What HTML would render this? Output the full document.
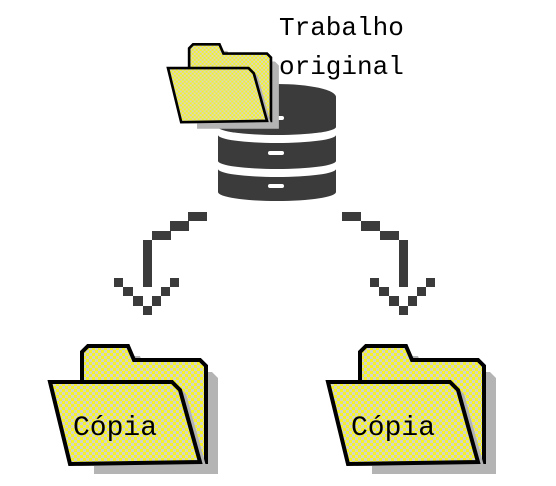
<!DOCTYPE html>
<html><head><meta charset="utf-8"><style>
html,body{margin:0;padding:0;background:#fff;width:556px;height:486px;overflow:hidden}
</style></head><body>
<svg width="556" height="486" viewBox="0 0 556 486" xmlns="http://www.w3.org/2000/svg">
<defs>
<pattern id="ck" width="6" height="6" patternUnits="userSpaceOnUse">
<rect width="6" height="6" fill="#f6f22a"/>
<rect width="3" height="3" fill="#d6d6c4"/>
<rect x="3" y="3" width="3" height="3" fill="#d6d6c4"/>
</pattern>
<g id="folder">
<path d="M38,26 L38,12 L44,6 L84,6 L90,22 L156,22 L162,28 L162,124 L38,124 Z" fill="#b4b4b4" transform="translate(6,6)"/>
<path d="M32,20 L32,8 L38,2 L78,2 L84,16 L150,16 L156,22 L156,118 L32,118 Z" fill="url(#ck)" stroke="#000" stroke-width="4"/>
<path d="M2,40 L124,40 L132,48 L152,120 L24,120 Z" fill="#b4b4b4" transform="translate(4,2)"/>
<path d="M0,38 L122,38 L130,46 L150,118 L20,120 Z" fill="url(#ck)" stroke="#000" stroke-width="4"/>
</g>
</defs>
<g fill="#3b3b3b">
<path d="M218,97 A59,13 0 0 1 336,97 L336,127 A59,8 0 0 1 218,127 Z"/>
<path d="M218,135 A59,8 0 0 0 336,135 L336,161 A59,8 0 0 1 218,161 Z"/>
<path d="M218,169 A59,8 0 0 0 336,169 L336,192 A59,9 0 0 1 218,192 Z"/>
</g>
<g fill="#fff"><rect x="268" y="116" width="16" height="4" rx="2"/><rect x="268" y="151" width="16" height="4" rx="2"/><rect x="268" y="184" width="16" height="4" rx="2"/></g>
<use href="#folder" transform="translate(168,43) scale(0.66)"/>
<text x="279" y="35" font-family="Liberation Mono, monospace" font-size="26" fill="#000">Trabalho</text>
<text x="279" y="74" font-family="Liberation Mono, monospace" font-size="26" fill="#000">original</text>
<g fill="#3b3b3b">
<rect x="188" y="212" width="19" height="9"/><rect x="170" y="221" width="19" height="10"/><rect x="152" y="231" width="19" height="9"/><rect x="143" y="240" width="9" height="47"/>
<rect x="114" y="278" width="9" height="9"/><rect x="123" y="287" width="10" height="9"/><rect x="133" y="296" width="10" height="10"/><rect x="143" y="306" width="9" height="9"/><rect x="152" y="296" width="9" height="10"/><rect x="161" y="287" width="9" height="9"/><rect x="170" y="278" width="9" height="9"/>
<rect x="342" y="212" width="19" height="9"/><rect x="361" y="221" width="19" height="10"/><rect x="380" y="231" width="19" height="9"/><rect x="399" y="240" width="9" height="47"/>
<rect x="370" y="278" width="9" height="9"/><rect x="379" y="287" width="10" height="9"/><rect x="389" y="296" width="10" height="10"/><rect x="399" y="306" width="9" height="9"/><rect x="408" y="296" width="9" height="10"/><rect x="417" y="287" width="9" height="9"/><rect x="426" y="278" width="9" height="9"/>
</g>
<use href="#folder" transform="translate(50,344)"/>
<use href="#folder" transform="translate(328,344)"/>
<text x="73" y="435" font-family="Liberation Mono, monospace" font-size="28" fill="#000">Cópia</text>
<text x="351" y="435" font-family="Liberation Mono, monospace" font-size="28" fill="#000">Cópia</text>
</svg>
</body></html>
